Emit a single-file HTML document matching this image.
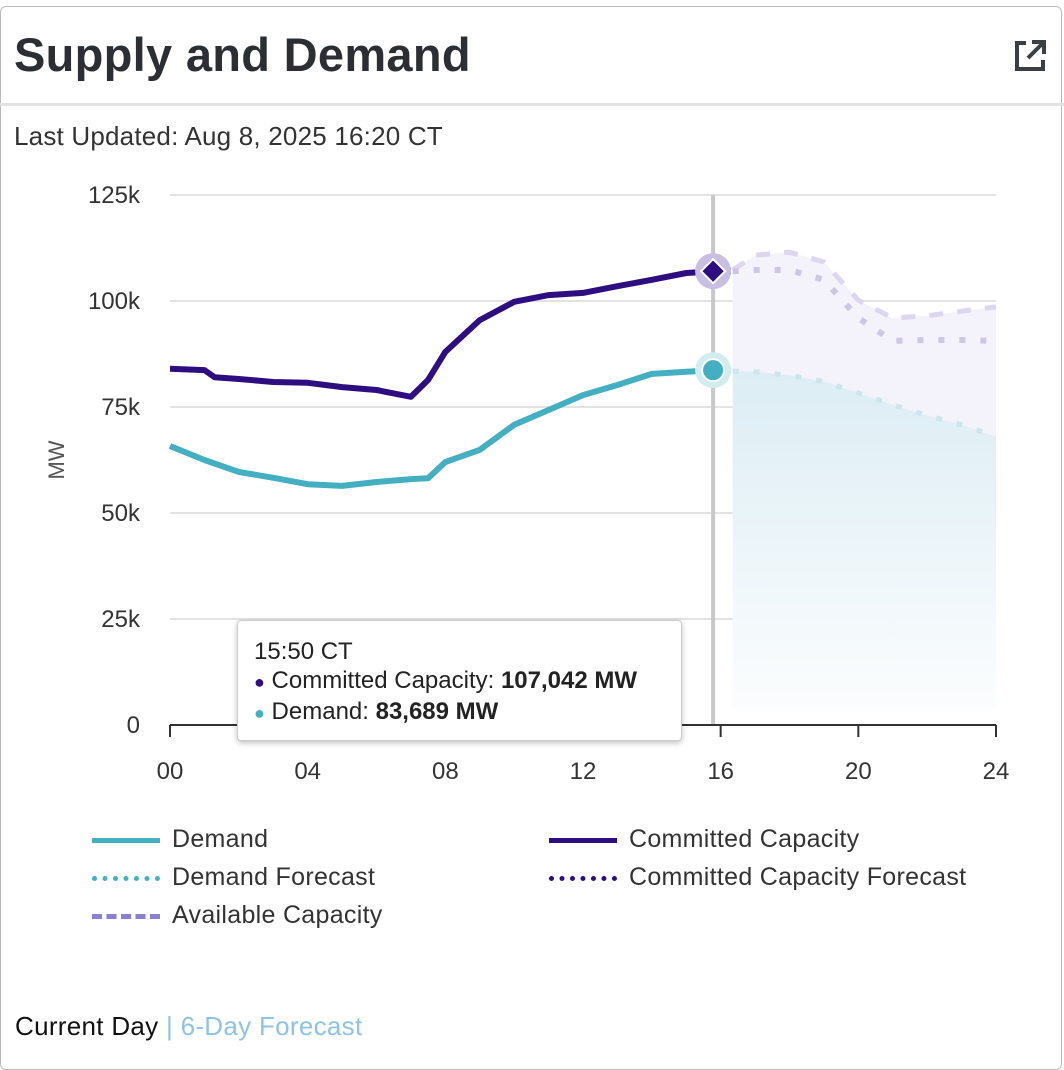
<!DOCTYPE html>
<html><head><meta charset="utf-8"><style>
body{margin:0;background:#fff;font-family:"Liberation Sans",sans-serif;}
#card{position:absolute;left:0;top:6px;width:1062px;height:1064px;border:1px solid #bbb;border-radius:6px;box-sizing:border-box;}
#title{position:absolute;left:14px;top:27px;font-size:47px;font-weight:bold;color:#2b2f33;letter-spacing:0.3px;}
#hdrline{position:absolute;left:0;top:103px;width:1064px;height:3px;background:#e2e2e2;}
#upd{position:absolute;left:14px;top:121px;font-size:26px;color:#333;letter-spacing:0.2px;}
#foot{position:absolute;left:15px;top:1011px;font-size:26px;color:#111;letter-spacing:0.3px;}
#foot span{color:#8ec3e6;}
.lg{position:absolute;font-size:25px;color:#333;letter-spacing:0.3px;}
</style></head><body>
<div id="card"></div>
<div id="title">Supply and Demand</div>
<svg style="position:absolute;left:1012px;top:38px" width="36" height="36" viewBox="0 0 36 36"><path d="M14 5H5v26h26v-9" fill="none" stroke="#3a3f44" stroke-width="4"/><path d="M20 4h12v12M32 4L16 20" fill="none" stroke="#3a3f44" stroke-width="4"/></svg>
<div id="hdrline"></div>
<div id="upd">Last Updated: Aug 8, 2025 16:20 CT</div>
<svg id="chart" style="position:absolute;left:0;top:0" width="1064" height="800">
<defs>
<linearGradient id="gd" x1="0" y1="0" x2="0" y2="1"><stop offset="0" stop-color="#dcedf4"/><stop offset="1" stop-color="#fbfdfe"/></linearGradient>
</defs>
<g id="grid"></g><g id="areas"></g><g id="lines"></g><g id="axes"></g>
</svg>
<div id="tip" style="position:absolute;left:237px;top:620px;width:445px;height:121px;background:#fff;border:1px solid #ccc;border-radius:4px;box-shadow:0 2px 6px rgba(0,0,0,.25);font-size:24px;color:#222;box-sizing:border-box;padding:16px 0 0 16px;line-height:29px">
<div>15:50 CT</div>
<div><span style="color:#2e0d80;font-size:18px">●</span> Committed Capacity: <b>107,042 MW</b></div>
<div><span style="color:#43afc1;font-size:18px">●</span> Demand: <b>83,689 MW</b></div>
</div>
<div class="lg" style="left:92px;top:825px"><span style="display:inline-block;width:68px;height:5px;background:#43afc1;vertical-align:middle;margin-right:12px"></span>Demand</div>
<div class="lg" style="left:92px;top:863px"><span style="display:inline-block;width:68px;border-top:5px dotted #43afc1;vertical-align:middle;margin-right:12px"></span>Demand Forecast</div>
<div class="lg" style="left:92px;top:901px"><span style="display:inline-block;width:68px;border-top:5px dashed #8a7fd0;vertical-align:middle;margin-right:12px"></span>Available Capacity</div>
<div class="lg" style="left:549px;top:825px"><span style="display:inline-block;width:68px;height:5px;background:#2e0d80;vertical-align:middle;margin-right:12px"></span>Committed Capacity</div>
<div class="lg" style="left:549px;top:863px"><span style="display:inline-block;width:68px;border-top:5px dotted #2e0d80;vertical-align:middle;margin-right:12px"></span>Committed Capacity Forecast</div>
<div id="foot"><span style="color:#111">Current Day</span> <span>| </span><span>6-Day Forecast</span></div>
<script>
const yTicks=[0,25,50,75,100,125];
const yTickLabels=["0","25k","50k","75k","100k","125k"];
const xTicks=[0,4,8,12,16,20,24];
const xTickLabels=["00","04","08","12","16","20","24"];
const demandHours=[0,1,2,3,4,5,6,7,7.5,8,9,10,11,12,13,14,15,15.83,16.3];
const demandValues=[65.8,62.5,59.7,58.3,56.8,56.4,57.3,58,58.2,62,64.9,70.8,74.3,77.8,80.2,82.8,83.3,83.7,83.6];
const committedHours=[0,1,1.3,2,3,4,5,6,7,7.5,8,9,10,11,12,13,14,15,15.83,16.3];
const committedValues=[84,83.7,82,81.6,80.9,80.7,79.7,79,77.4,81.4,88,95.5,99.8,101.4,101.9,103.5,105,106.6,107.0,107.0];
const forecastHours=[16.35,17,18,19,20,21,22,23,24];
const demandForecast=[83.5,83.3,82.5,81,78.3,75.5,73,70.8,68];
const committedForecast=[107,107.3,107.3,105,96,90.6,90.8,90.8,90.6];
const availableCapacity=[107.3,110.8,111.5,109.2,100.2,96,96.5,97.6,98.6];
const cursorHour=15.78;
const X=h=>170+h*(826/24), Y=v=>725-v*4.24;
const ns="http://www.w3.org/2000/svg";
function mk(parent,tag,attrs){const e=document.createElementNS(ns,tag);for(const k in attrs)e.setAttribute(k,attrs[k]);document.getElementById(parent).appendChild(e);return e;}
function pts(hs,vs){return hs.map((h,i)=>X(h).toFixed(1)+","+Y(vs[i]).toFixed(1)).join(" ");}
yTicks.forEach((t,i)=>{
 if(t>0){const g=mk("grid","line",{x1:170,x2:996,y1:Y(t),y2:Y(t),stroke:"#e3e3e3","stroke-width":2});
 
 }
 const l=mk("axes","text",{x:140,y:Y(t)+8,"text-anchor":"end","font-size":24,fill:"#333"});l.textContent=yTickLabels[i];
 
 
});
xTicks.forEach((t,i)=>{
 const tk=mk("axes","line",{x1:X(t),x2:X(t),y1:725,y2:737,stroke:"#333","stroke-width":2});
 
 
 const l=mk("axes","text",{x:X(t),y:779,"text-anchor":"middle","font-size":24,fill:"#333"});l.textContent=xTickLabels[i];
 
 
});
const ax=mk("axes","line",{x1:170,x2:996,y1:725,y2:725,stroke:"#333","stroke-width":2});


const yt=mk("axes","text",{x:64,y:460,"text-anchor":"middle","font-size":22,fill:"#555",transform:"rotate(-90 64 460)"});yt.textContent="MW";


const base=Y(4);
const a1=mk("areas","polygon",{points:pts(forecastHours,availableCapacity)+` ${X(24)},${base} ${X(forecastHours[0])},${base}`,fill:"#f4f2fa"});


const a2=mk("areas","polygon",{points:pts(forecastHours,demandForecast)+` ${X(24)},${base} ${X(forecastHours[0])},${base}`,fill:"url(#gd)"});


const s=[
 ["available-capacity-line",forecastHours,availableCapacity,"#dcd6ee","14 14",5],
 ["committed-forecast-line",forecastHours,committedForecast,"#cdc6e6","6 15",6],
 ["demand-forecast-line",forecastHours,demandForecast,"#cde6ec","6 15",5],
 ["demand-line",demandHours,demandValues,"#43afc1","",6],
 ["committed-capacity-line",committedHours,committedValues,"#2e0d80","",6]];
s.forEach(([n,h,v,c,d,w])=>{const p=mk("lines","polyline",{points:pts(h,v),fill:"none",stroke:c,"stroke-width":w,"stroke-dasharray":d,"stroke-linejoin":"round"});
 
 });
const cx=X(cursorHour);
const cl=mk("lines","line",{x1:cx,x2:cx,y1:195,y2:725,stroke:"#c8c8c8","stroke-width":4});


const h1=mk("lines","circle",{cx:cx,cy:Y(107.04),r:18,fill:"#c9bfe2"});


const m1=mk("lines","polygon",{points:`${cx-12},${Y(107.04)} ${cx},${Y(107.04)-12} ${cx+12},${Y(107.04)} ${cx},${Y(107.04)+12}`,fill:"#2e0d80",stroke:"#fff","stroke-width":2});


const h2=mk("lines","circle",{cx:cx,cy:Y(83.69),r:18,fill:"#d3ecf0"});


const m2=mk("lines","circle",{cx:cx,cy:Y(83.69),r:11,fill:"#43afc1",stroke:"#fff","stroke-width":2});


</script>
</body></html>
